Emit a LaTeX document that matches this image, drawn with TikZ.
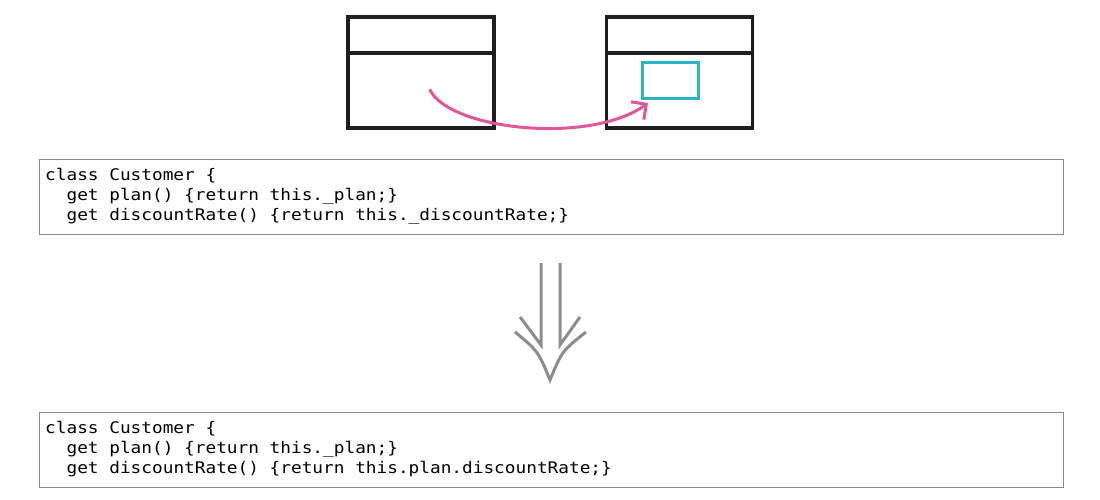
\documentclass[tikz,border=0pt]{standalone}
\usepackage{fontspec}
\usetikzlibrary{arrows.meta,positioning}
\newfontfamily\codefont[FakeStretch=1.11]{DejaVu Sans Mono}
\definecolor{classink}{RGB}{30,30,30}
\definecolor{fieldcyan}{RGB}{40,180,196}
\definecolor{movepink}{RGB}{224,86,154}
\definecolor{codegray}{RGB}{138,138,138}
\definecolor{stepgray}{RGB}{140,140,140}
\tikzset{
  class box/.style={
    rectangle, draw=classink, line width=3.5pt,
    minimum width=146pt, minimum height=111pt, inner sep=0pt
  },
  field box/.style={
    rectangle, draw=fieldcyan, line width=3pt,
    minimum width=56pt, minimum height=36pt, inner sep=0pt
  },
  code box/.style={
    rectangle, draw=codegray, line width=1.3pt,
    minimum width=1024pt, minimum height=75pt, inner sep=0pt
  },
  code text/.style={
    align=left, inner sep=0pt, anchor=north west,
    font=\codefont\fontsize{16}{20}\selectfont
  },
  move arrow/.style={
    movepink, line width=3pt, line cap=round,
    -{Straight Barb[length=11pt, width=22pt, line width=3pt]}
  },
  step arrow/.style={stepgray, line width=3pt}
}

\begin{document}
\begin{tikzpicture}[x=1pt, y=-1pt]
    \useasboundingbox (0,0) rectangle (1100,500);
    % class boxes before and after the move
    \node[class box] (source) at (421,72.5) {};
    \node[class box] (target) at (679.5,72.5) {};
    \draw[classink, line width=3.5pt] ([yshift=-38pt]source.north west) -- ([yshift=-38pt]source.north east);
    \draw[classink, line width=3.5pt] ([yshift=-38pt]target.north west) -- ([yshift=-38pt]target.north east);
    \node[field box] (field) at (670,81) {};
    \coordinate (start) at (430,90);
    \coordinate (tip) at (648,103);
    \draw[move arrow] (start) .. controls (450,130) and (590,145) .. (tip);
    % code before
    \node[code box, anchor=north west] (before) at (39,159) {};
    \node[code text] (beforecode) at (45,168) {class Customer \{\\
\ \ get plan() \{return this.\_plan;\}\\
\ \ get discountRate() \{return this.\_discountRate;\}};
    % refactoring step
    \coordinate (left top) at (541,263);
    \coordinate (right top) at (560,263);
    \coordinate (left end) at (541,345);
    \coordinate (right end) at (560,345);
    \coordinate (point) at (550,380);
    \draw[step arrow] (left top) -- (left end) -- (520,317);
    \draw[step arrow] (right top) -- (right end) -- (580,317);
    \draw[step arrow] (515,332) .. controls (538,351) .. (point) .. controls (562,351) .. (586,332);
    % code after
    \node[code box, anchor=north west] (after) at (39,412) {};
    \node[code text] (aftercode) at (45,421) {class Customer \{\\
\ \ get plan() \{return this.\_plan;\}\\
\ \ get discountRate() \{return this.plan.discountRate;\}};
\end{tikzpicture}
\end{document}
